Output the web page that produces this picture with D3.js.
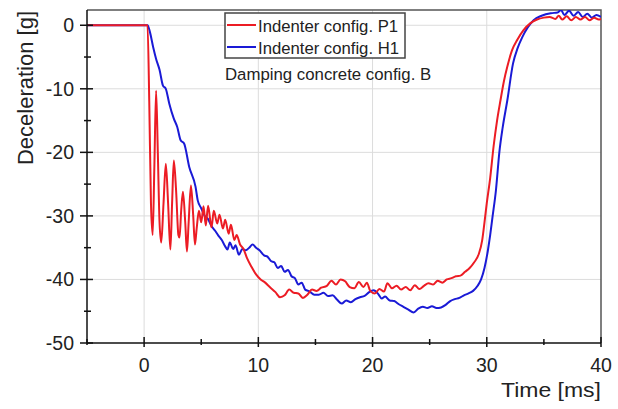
<!DOCTYPE html>
<html>
<head>
<meta charset="utf-8">
<script src="https://cdn.jsdelivr.net/npm/d3@7"></script>
<style>
  body { margin: 0; background: #fff; }
  text { font-family: "Liberation Sans", Arial, sans-serif; fill: #222; }
</style>
</head>
<body>
<div id="chart"></div>
<script>
// time [ms] and deceleration [g]
const p1Time = [-5, 0.3, 0.45, 0.6, 0.75, 0.9, 1.05, 1.2, 1.35, 1.5, 1.7, 1.9, 2.1, 2.3, 2.45, 2.6, 2.8, 3.0, 3.1, 3.25, 3.4, 3.6, 3.75, 3.9, 4.1, 4.3, 4.45, 4.6, 4.8, 5.0, 5.2, 5.4, 5.6, 5.9, 6.1, 6.4, 6.6, 6.9, 7.1, 7.4, 7.6, 7.9, 8.1, 8.4, 8.7, 9.0, 9.4, 9.8, 10.2, 10.6, 11.0, 11.5, 11.9, 12.3, 12.7, 13.1, 13.5, 13.9, 14.3, 14.7, 15.1, 15.5, 16.0, 16.4, 16.8, 17.2, 17.6, 18.0, 18.4, 18.8, 19.2, 19.5, 19.8, 20.2, 20.6, 21.0, 21.3, 21.7, 22.1, 22.5, 22.9, 23.3, 23.7, 24.1, 24.5, 24.9, 25.3, 25.7, 26.1, 26.5, 26.9, 27.3, 27.7, 28.1, 28.5, 28.9, 29.3, 29.6, 29.8, 30.0, 30.3, 30.6, 30.9, 31.2, 31.5, 31.8, 32.2, 32.7, 33.2, 33.8, 34.4, 35, 35.5, 36, 36.3, 36.6, 37, 37.4, 37.8, 38.2, 38.6, 39, 39.4, 39.8, 40];
const p1Value = [0, 0, -12, -28, -33, -22, -10.3, -20, -31, -34.2, -28, -21.8, -28, -35.3, -28, -21.3, -26, -33, -33.4, -29, -26.2, -31, -35.6, -31, -25.2, -30, -34.5, -32, -29.2, -31, -28.5, -31.5, -28.4, -31.8, -29.2, -31.2, -29.8, -32, -30.6, -32.8, -31.4, -33.8, -33, -34.5, -35.2, -36.6, -38, -39.2, -40, -40.5, -41.2, -42, -42.8, -42.5, -41.6, -42.1, -42.2, -42.9, -42.4, -41.6, -41.8, -41.3, -41.0, -40.2, -40.8, -40.0, -40.3, -41.2, -41.4, -40.4, -41.2, -40.5, -41.8, -42.2, -41.5, -41.9, -40.6, -41.4, -41.0, -41.6, -41.2, -41.7, -40.9, -41.5, -41.0, -40.6, -40.8, -40.2, -40.5, -40.0, -39.8, -39.5, -39.4, -38.8, -38.2, -37.3, -36, -33.8, -31, -28, -24, -19, -15, -11.8, -8.8, -6.5, -4, -2.2, -0.8, 0.3, 0.9, 1.2, 1.3, 1.0, 1.5, 0.9, 1.4, 0.8, 1.3, 0.9, 1.3, 0.8, 1.2, 0.9, 1.0];

const h1Time = [-5, 0.3, 0.5, 0.8, 1.05, 1.35, 1.65, 1.9, 2.2, 2.6, 2.9, 3.2, 3.5, 3.95, 4.5, 4.7, 5.0, 5.3, 5.6, 5.9, 6.2, 6.5, 6.8, 7.1, 7.3, 7.5, 7.8, 8.0, 8.3, 8.6, 8.9, 9.2, 9.5, 9.8, 10.1, 10.5, 10.8, 11.1, 11.4, 11.7, 12.0, 12.3, 12.6, 12.9, 13.2, 13.5, 13.8, 14.1, 14.5, 14.9, 15.3, 15.7, 16.1, 16.5, 16.9, 17.3, 17.7, 18.1, 18.5, 18.9, 19.3, 19.7, 20.1, 20.5, 20.8, 21.1, 21.5, 21.9, 22.3, 22.7, 23.1, 23.6, 24.0, 24.4, 24.8, 25.2, 25.6, 26.0, 26.4, 26.8, 27.2, 27.6, 28.0, 28.4, 28.8, 29.2, 29.5, 29.8, 30.1, 30.3, 30.5, 30.8, 31.1, 31.4, 31.8, 32.3, 32.7, 33.1, 33.6, 34.1, 34.8, 35.6, 36.2, 36.5, 36.8, 37.2, 37.6, 38.0, 38.4, 38.8, 39.2, 39.6, 40];
const h1Value = [0, 0, -1, -3.5, -5.3, -7, -9.5, -10, -12.3, -14.7, -16, -18.1, -18.6, -22.3, -25.4, -27.6, -28.8, -30.0, -30.5, -31.6, -32.3, -33.1, -33.8, -34.8, -35.3, -34.2, -35.2, -34.6, -36.1, -35.2, -35.4, -35.0, -34.5, -35.0, -35.4, -36.2, -36.4, -37.1, -37.3, -38.2, -37.9, -38.8, -38.5, -39.5, -39.8, -40.8, -40.5, -41.6, -41.9, -42.4, -42.4, -42.1, -42.6, -42.5, -43.2, -43.8, -43.3, -43.6, -43.1, -42.8, -42.6, -42.0, -41.7, -42.3, -43.0, -42.7, -43.3, -43.4, -43.9, -44.3, -44.7, -45.2, -44.6, -44.3, -44.5, -44.2, -44.5, -44.4, -44.0, -43.4, -43.1, -42.9, -42.5, -42.2, -41.8, -41.0, -40.0, -38.2, -35.4, -33, -30.2, -26, -20, -16, -11.8, -6, -3.6, -1.9, -0.3, 0.8, 1.5, 1.9, 2.0, 2.4, 1.6, 2.3, 1.5, 2.1, 1.3, 1.8, 1.2, 1.6, 1.3];

const xTicks = [0, 10, 20, 30, 40];
const xMinor = [-5, 5, 15, 25, 35];
const yTicks = [0, -10, -20, -30, -40, -50];
const yMinor = [-5, -15, -25, -35, -45];
const legendLabels = ['Indenter config. P1', 'Indenter config. H1'];
const legendColors = ['#ec1c24', '#1a1ad6'];
const noteText = 'Damping concrete config. B';

const width = 618, height = 409;
const m = { left: 87, right: 601, top: 10, bottom: 343 };

const x = d3.scaleLinear().domain([-5, 40]).range([m.left, m.right]);
const y = d3.scaleLinear().domain([-50, 2.4]).range([m.bottom, m.top]);

const svg = d3.select('#chart').append('svg')
  .attr('width', width)
  .attr('height', height);

// grid
const grid = svg.append('g').attr('stroke', '#dcdcdc').attr('stroke-width', 1);
grid.selectAll('.gx').data(xTicks.filter(d => d > -5 && d < 40)).enter()
  .append('line')
  .attr('x1', d => x(d)).attr('x2', d => x(d))
  .attr('y1', m.top).attr('y2', m.bottom);
grid.selectAll('.gy').data(yTicks.filter(d => d > -50)).enter()
  .append('line')
  .attr('x1', m.left).attr('x2', m.right)
  .attr('y1', d => y(d)).attr('y2', d => y(d));

// frame top/right
svg.append('path')
  .attr('d', `M${m.left},${m.top}H${m.right}V${m.bottom}`)
  .attr('fill', 'none')
  .attr('stroke', '#555')
  .attr('stroke-width', 1.5);

// curves
svg.append('clipPath').attr('id', 'clip')
  .append('rect')
  .attr('x', m.left).attr('y', m.top)
  .attr('width', m.right - m.left).attr('height', m.bottom - m.top);

const line = d3.line()
  .x(d => x(d[0]))
  .y(d => y(d[1]))
  .curve(d3.curveMonotoneX);

const series = [
  d3.zip(p1Time, p1Value),
  d3.zip(h1Time, h1Value)
];

svg.append('g').attr('clip-path', 'url(#clip)')
  .selectAll('path')
  .data([series[1], series[0]])
  .enter()
  .append('path')
  .attr('d', line)
  .attr('fill', 'none')
  .attr('stroke', (d, i) => i == 0 ? legendColors[1] : legendColors[0])
  .attr('stroke-width', 2)
  .attr('stroke-linejoin', 'round');

// axes
const xAxis = svg.append('g');
xAxis.append('line')
  .attr('x1', m.left).attr('x2', m.right)
  .attr('y1', m.bottom).attr('y2', m.bottom)
  .attr('stroke', '#111').attr('stroke-width', 1.5);
xAxis.selectAll('.maj').data(xTicks).enter()
  .append('line')
  .attr('x1', d => x(d)).attr('x2', d => x(d))
  .attr('y1', m.bottom - 6).attr('y2', m.bottom + 4)
  .attr('stroke', '#111').attr('stroke-width', 1.5);
xAxis.selectAll('.min').data(xMinor).enter()
  .append('line')
  .attr('x1', d => x(d)).attr('x2', d => x(d))
  .attr('y1', m.bottom - 4).attr('y2', m.bottom + 2)
  .attr('stroke', '#111').attr('stroke-width', 1.5);
xAxis.selectAll('text').data(xTicks).enter()
  .append('text')
  .attr('x', d => x(d))
  .attr('y', 372)
  .attr('text-anchor', 'middle')
  .attr('font-size', 19.5)
  .text(d => d);

const yAxis = svg.append('g');
yAxis.append('line')
  .attr('x1', m.left).attr('x2', m.left)
  .attr('y1', m.top).attr('y2', m.bottom)
  .attr('stroke', '#111').attr('stroke-width', 1.5);
yAxis.selectAll('.maj').data(yTicks).enter()
  .append('line')
  .attr('x1', m.left - 7).attr('x2', m.left + 6)
  .attr('y1', d => y(d)).attr('y2', d => y(d))
  .attr('stroke', '#111').attr('stroke-width', 1.5);
yAxis.selectAll('.min').data(yMinor).enter()
  .append('line')
  .attr('x1', m.left - 3).attr('x2', m.left + 4)
  .attr('y1', d => y(d)).attr('y2', d => y(d))
  .attr('stroke', '#111').attr('stroke-width', 1.5);
yAxis.selectAll('text').data(yTicks).enter()
  .append('text')
  .attr('x', m.left - 13)
  .attr('y', d => y(d) + 7)
  .attr('text-anchor', 'end')
  .attr('font-size', 19.5)
  .text(d => d);

// axis titles
svg.append('text')
  .attr('transform', 'translate(33,88) rotate(-90)')
  .attr('text-anchor', 'middle')
  .attr('font-size', 22)
  .text('Deceleration [g]');

svg.append('text')
  .attr('x', m.right)
  .attr('y', 397)
  .attr('text-anchor', 'end')
  .attr('font-size', 21)
  .attr('textLength', 100)
  .attr('lengthAdjust', 'spacingAndGlyphs')
  .text('Time [ms]');

// legend
const legend = svg.append('g');
legend.append('rect')
  .attr('x', 225).attr('y', 13)
  .attr('width', 180).attr('height', 45)
  .attr('fill', '#fff')
  .attr('stroke', '#444')
  .attr('stroke-width', 1.5);
legendLabels.forEach((lab, i) => {
  const ly = 25 + i * 22;
  legend.append('line')
    .attr('x1', 227).attr('x2', 256)
    .attr('y1', ly).attr('y2', ly)
    .attr('stroke', legendColors[i])
    .attr('stroke-width', 2);
  legend.append('text')
    .attr('x', 258)
    .attr('y', ly + 6.5)
    .attr('font-size', 16.7)
    .text(lab);
});

svg.append('text')
  .attr('x', 225)
  .attr('y', 80)
  .attr('font-size', 16.8)
  .text(noteText);
</script>
</body>
</html>
